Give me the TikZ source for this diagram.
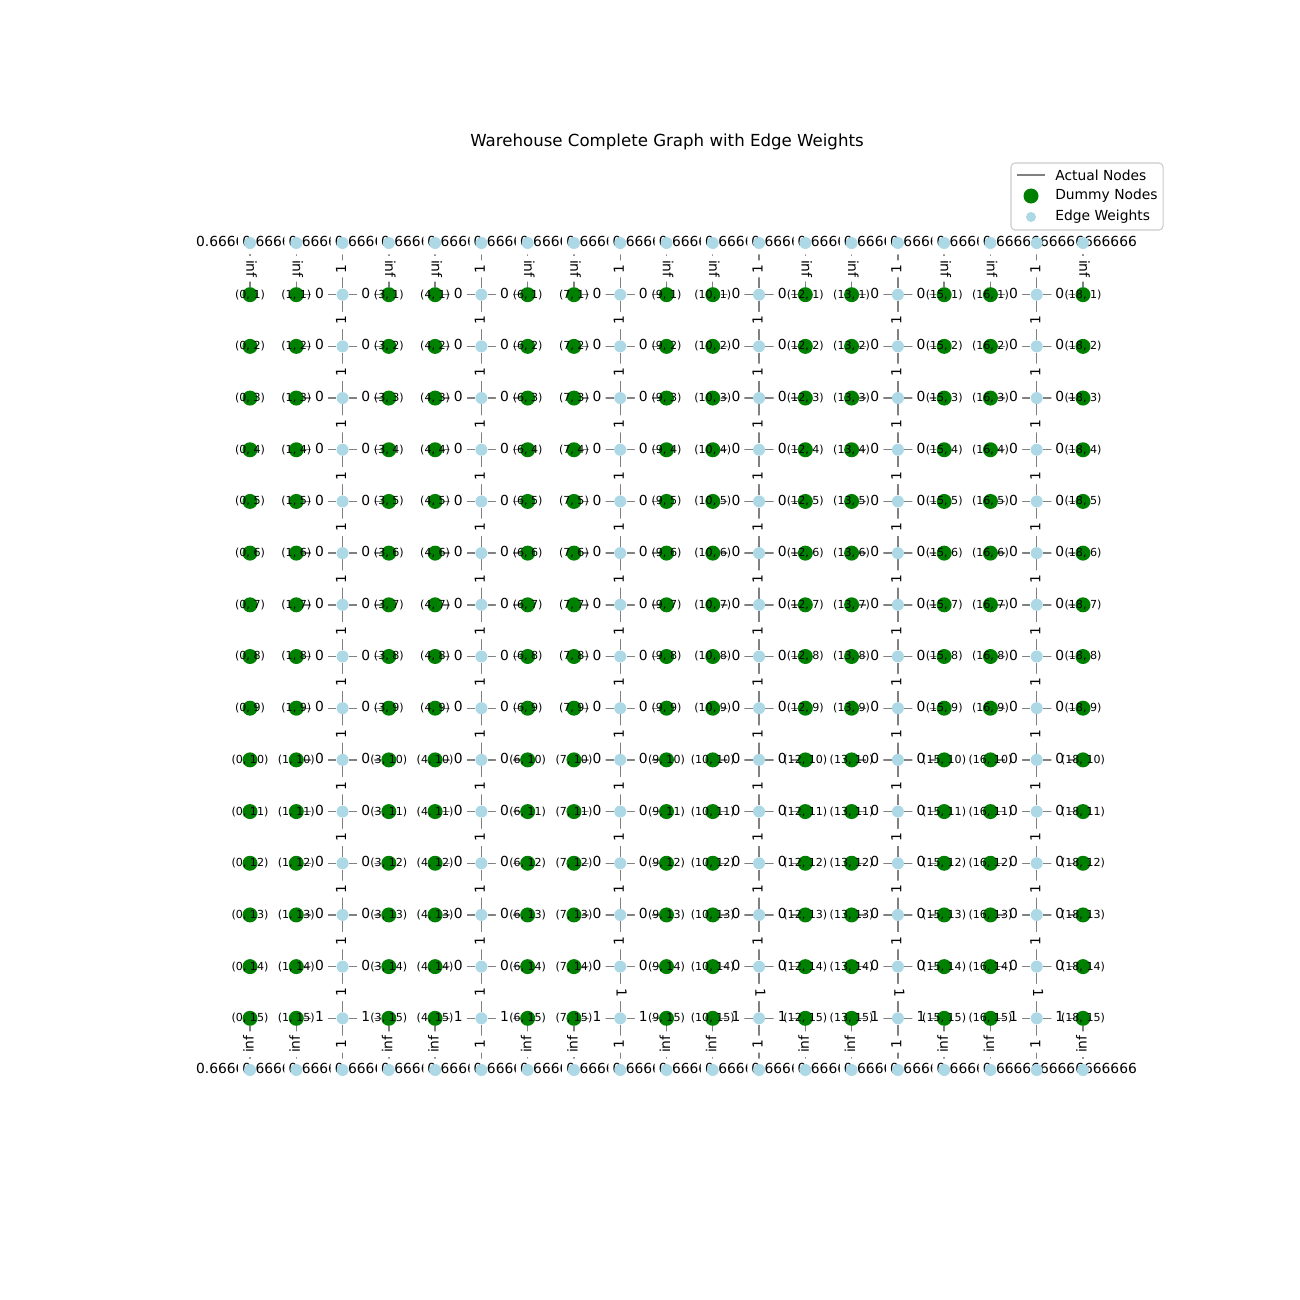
\documentclass[tikz,border=0pt]{standalone}
\usepackage{fontspec}
\setmainfont{DejaVu Sans}
\definecolor{mplgreen}{HTML}{008000}
\definecolor{lblue}{HTML}{ADD8E6}
\pgfdeclarelayer{bg}
\pgfdeclarelayer{edgel}
\pgfdeclarelayer{lab}
\pgfdeclarelayer{txt}
\pgfsetlayers{bg,edgel,lab,main,txt}
\tikzset{
  gnode/.style={circle, fill=mplgreen, minimum size=0.15in, inner sep=0pt},
  bnode/.style={circle, fill=lblue, minimum size=0.12in, inner sep=0pt},
  edge/.style={draw=gray, line width=1pt},
  elab/.style={fill=white, rounded corners=2pt, inner sep=3pt, font=\fontsize{10}{12}\selectfont, text height=0.76em, text depth=0.24em},
  nlab/.style={font=\fontsize{8}{9.6}\selectfont, inner sep=0pt},
  legtext/.style={anchor=west, inner sep=0pt, font=\fontsize{10}{12}\selectfont},
}
\newcommand{\PX}[1]{250+46.2778*#1}
\newcommand{\PY}[1]{243+51.6875*#1}
\begin{document}
\begin{tikzpicture}[x=0.01in, y=-0.01in]
\useasboundingbox (0,0) rectangle (1300,1300);
\begin{pgfonlayer}{bg}
\fill[white] (0,0) rectangle (1300,1300);
\end{pgfonlayer}
% title
\node[font=\fontsize{12}{14}\selectfont] (title) at (667,142) {Warehouse Complete Graph with Edge Weights};
% top and bottom rows
\foreach \c in {0,...,18} {
  \node[bnode] (n-\c-0) at ({\PX{\c}},{\PY{0}}) {};
  \node[bnode] (n-\c-16) at ({\PX{\c}},{\PY{16}}) {};
}
% green nodes
\foreach \c in {0,1,3,4,6,7,9,10,12,13,15,16,18} {
  \foreach \r in {1,...,15} {
    \node[gnode] (n-\c-\r) at ({\PX{\c}},{\PY{\r}}) {};
    \begin{pgfonlayer}{txt}
      \node[nlab] (t-\c-\r) at (n-\c-\r) {(\c, \r)};
    \end{pgfonlayer}
  }
}
% aisle nodes
\foreach \c in {2,5,8,11,14,17} {
  \foreach \r in {1,...,15} {
    \node[bnode] (n-\c-\r) at ({\PX{\c}},{\PY{\r}}) {};
  }
}
% edges
\begin{pgfonlayer}{edgel}
  \foreach \c [evaluate=\c as \d using int(\c+1)] in {0,...,17} {
    \draw[edge] (n-\c-0) -- (n-\d-0);
    \draw[edge] (n-\c-16) -- (n-\d-16);
  }
  \foreach \c in {0,1,3,4,6,7,9,10,12,13,15,16,18} {
    \draw[edge] (n-\c-0) -- (n-\c-1);
    \draw[edge] (n-\c-15) -- (n-\c-16);
  }
  \foreach \c [evaluate=\c as \cl using int(\c-1), evaluate=\c as \cr using int(\c+1)] in {2,5,8,11,14,17} {
    \foreach \r [evaluate=\r as \rr using int(\r+1)] in {0,...,15} {
      \draw[edge] (n-\c-\r) -- (n-\c-\rr);
    }
    \foreach \r in {1,...,15} {
      \draw[edge] (n-\cl-\r) -- (n-\c-\r);
      \draw[edge] (n-\c-\r) -- (n-\cr-\r);
    }
  }
\end{pgfonlayer}
% edge labels
\begin{pgfonlayer}{lab}
  \foreach \c [evaluate=\c as \cl using int(\c-1), evaluate=\c as \cr using int(\c+1)] in {2,5,8,11,14,17} {
    \foreach \r [evaluate=\r as \rr using int(\r+1)] in {0,...,15} {
      \ifnum\c>5 \ifnum\r=14
        \path (n-\c-\r.center) -- (n-\c-\rr.center) node[elab, midway, rotate=-90] (w-\c-\r) {1};
      \else
        \path (n-\c-\r.center) -- (n-\c-\rr.center) node[elab, midway, rotate=90] (w-\c-\r) {1};
      \fi
      \else
        \path (n-\c-\r.center) -- (n-\c-\rr.center) node[elab, midway, rotate=90] (w-\c-\r) {1};
      \fi
    }
    \foreach \r in {1,...,14} {
      \path (n-\cl-\r.center) -- (n-\c-\r.center) node[elab, midway] (l-\c-\r) {0};
      \path (n-\c-\r.center) -- (n-\cr-\r.center) node[elab, midway] (r-\c-\r) {0};
    }
    \path (n-\cl-15.center) -- (n-\c-15.center) node[elab, midway] (l-\c-15) {1};
    \path (n-\c-15.center) -- (n-\cr-15.center) node[elab, midway] (r-\c-15) {1};
  }
  \foreach \c in {0,1,3,4,6,7,9,10,12,13,15,16,18} {
    \path (n-\c-0.center) -- (n-\c-1.center) node[elab, midway, rotate=-90] (ti-\c) {inf};
    \path (n-\c-15.center) -- (n-\c-16.center) node[elab, midway, rotate=90] (bi-\c) {inf};
  }
  \foreach \c [evaluate=\c as \d using int(\c+1)] in {0,...,17} {
    \path (n-\c-0.center) -- (n-\d-0.center) node[elab, midway] (tw-\c) {0.6666666666666666};
    \path (n-\c-16.center) -- (n-\d-16.center) node[elab, midway] (bw-\c) {0.6666666666666666};
  }
\end{pgfonlayer}
% legend
\node[draw=black!20, fill=white, rounded corners=3pt, line width=0.8pt, minimum width=1.52in, minimum height=0.67in, inner sep=0pt] (legend) at (1087,196.5) {};
\coordinate (la) at (1017,175);
\coordinate (lb) at (1045,175);
\draw[edge] (la) -- (lb);
\node[legtext] (lt1) at (1055,175) {Actual Nodes};
\node[circle, fill=mplgreen, minimum size=0.15in, inner sep=0pt] (lg) at (1031,196) {};
\node[legtext] (lt2) at (1055,196) {Dummy Nodes};
\node[circle, fill=lblue, minimum size=0.10in, inner sep=0pt] (lbn) at (1031,217) {};
\node[legtext] (lt3) at (1055,217) {Edge Weights};
\end{tikzpicture}
\end{document}
